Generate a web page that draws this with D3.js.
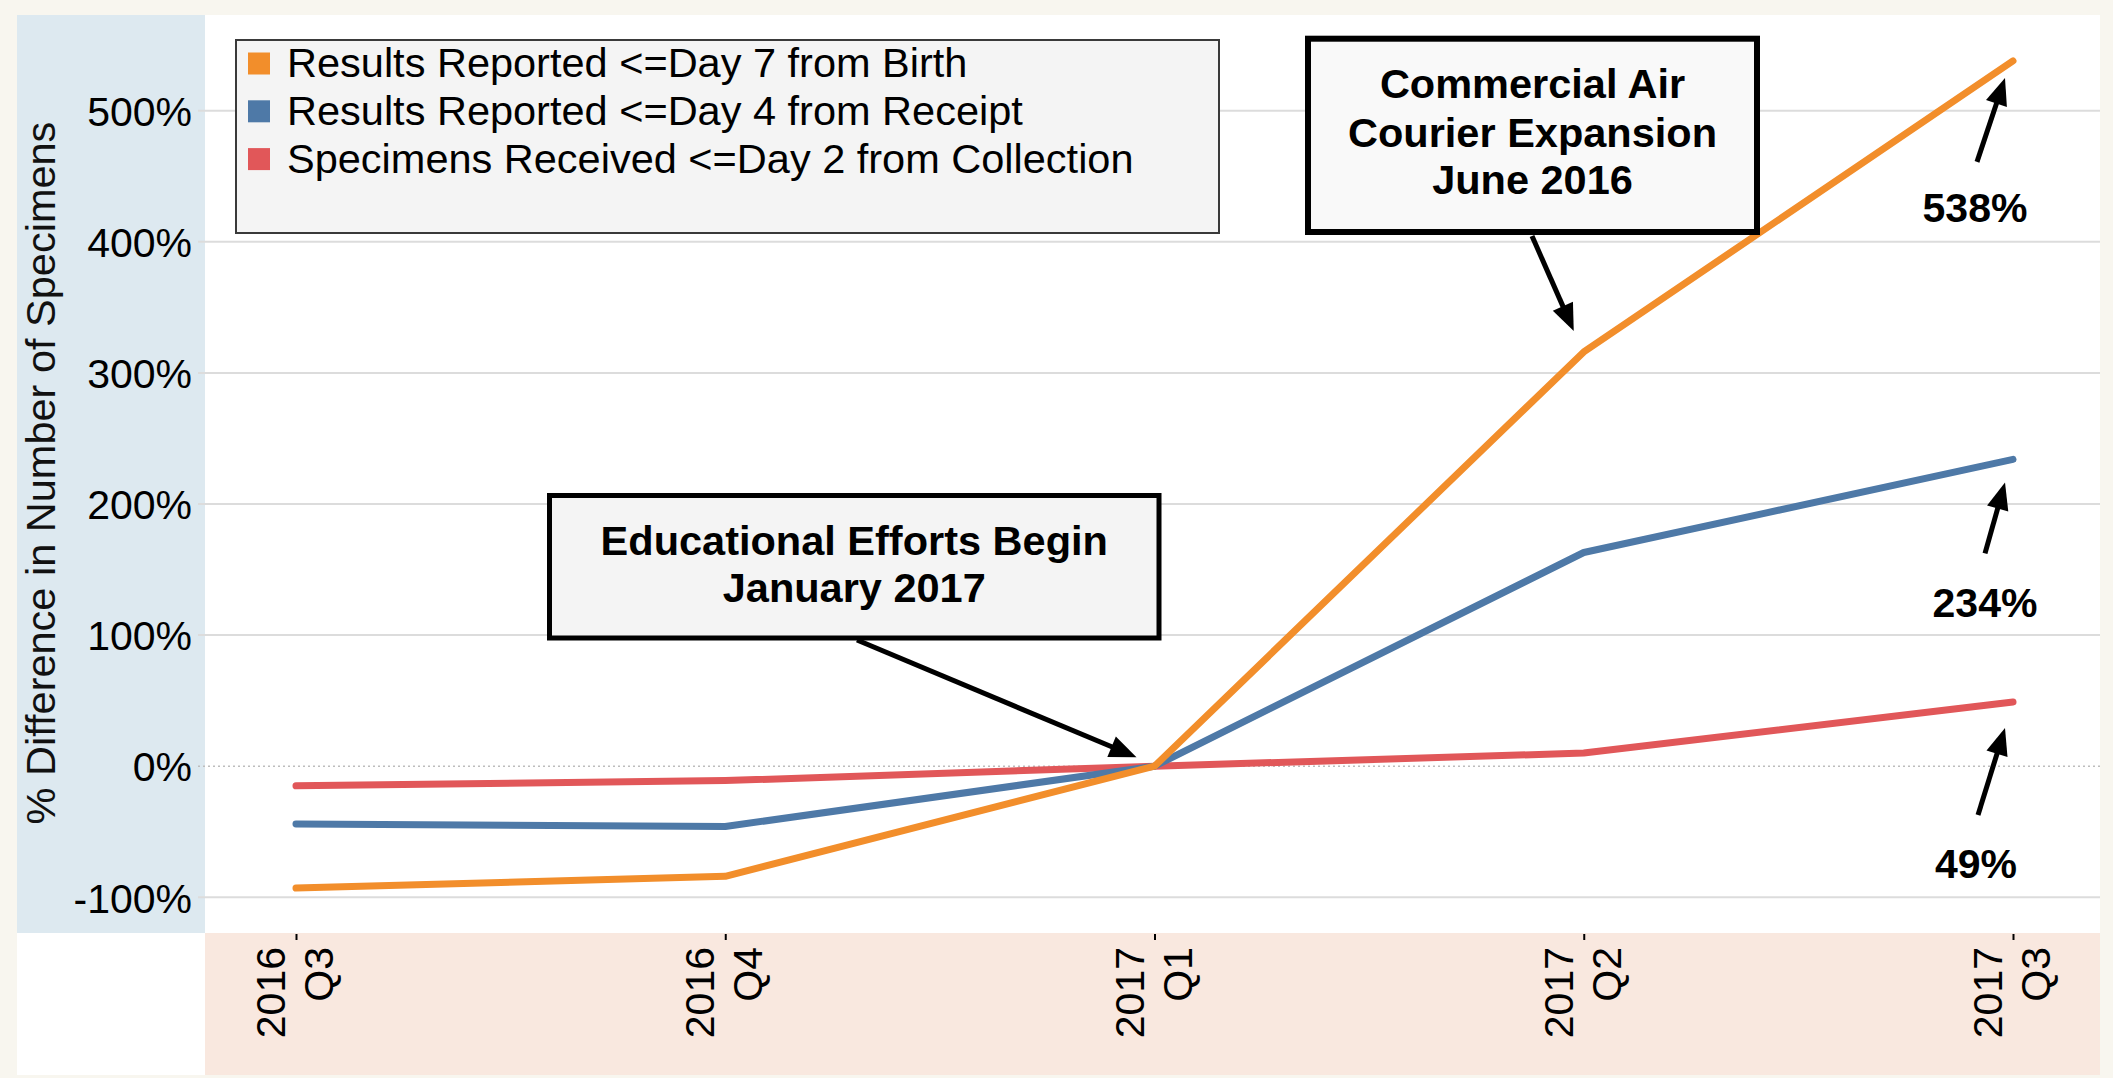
<!DOCTYPE html>
<html>
<head>
<meta charset="utf-8">
<script src="https://cdn.jsdelivr.net/npm/d3@7"></script>
<style>
  html, body { margin: 0; padding: 0; background: #f8f6ef; }
  svg { display: block; font-family: "Liberation Sans", Arial, sans-serif; }
</style>
</head>
<body>
<div id="chart"></div>
<script>
// quarters on the x axis and the % difference of each series
const quarters = ["2016 Q3", "2016 Q4", "2017 Q1", "2017 Q2", "2017 Q3"];
const seriesNames = [
  "Results Reported <=Day 7 from Birth",
  "Results Reported <=Day 4 from Receipt",
  "Specimens Received <=Day 2 from Collection"
];
const birthDay7 = [-93, -84, 0, 316, 538];
const receiptDay4 = [-44, -46, 0, 163, 234];
const collectionDay2 = [-15, -11, 0, 10, 49];
const yTicks = [-100, 0, 100, 200, 300, 400, 500];
const endLabels = ["538%", "234%", "49%"];

const colors = ["#f28e2b", "#4e79a7", "#e15759"];
const seriesValues = [birthDay7, receiptDay4, collectionDay2];

const W = 2113, H = 1078;
const plot = { left: 205, right: 2100, top: 15, bottom: 933 };

const svg = d3.select("#chart")
  .append("svg")
  .attr("width", W)
  .attr("height", H);

// backgrounds
svg.append("rect").attr("x", 17).attr("y", 15).attr("width", plot.right - 17).attr("height", 1075 - 15).attr("fill", "#ffffff");
svg.append("rect").attr("x", 17).attr("y", plot.top).attr("width", plot.left - 17).attr("height", plot.bottom - plot.top).attr("fill", "#dde9f0");
svg.append("rect").attr("x", plot.left).attr("y", plot.bottom).attr("width", plot.right - plot.left).attr("height", 1075 - plot.bottom).attr("fill", "#f9e8df");

const xScale = d3.scalePoint()
  .domain(quarters)
  .range([296, 2013]);

const yScale = d3.scaleLinear()
  .domain([-100, 500])
  .range([897.3, 110.7]);

// gridlines
svg.append("g")
  .selectAll("line")
  .data(yTicks)
  .enter()
  .append("line")
  .attr("x1", 198)
  .attr("x2", plot.right)
  .attr("y1", d => yScale(d))
  .attr("y2", d => yScale(d))
  .attr("stroke", d => d === 0 ? "#bdbdbd" : "#dcdcdc")
  .attr("stroke-width", d => d === 0 ? 1.5 : 2)
  .attr("stroke-dasharray", d => d === 0 ? "2,3" : null);

// y axis
const yAxis = d3.axisLeft(yScale)
  .tickValues(yTicks)
  .tickSize(0)
  .tickPadding(0)
  .tickFormat(d => d + "%");

const yAxisG = svg.append("g")
  .attr("transform", "translate(192,0)")
  .call(yAxis);
yAxisG.select(".domain").remove();
yAxisG.selectAll("text")
  .attr("font-size", 41)
  .attr("font-family", "Liberation Sans, Arial, sans-serif")
  .attr("fill", "#000")
  .attr("dy", "0.36em");

svg.append("text")
  .attr("transform", "translate(55,473) rotate(-90)")
  .attr("text-anchor", "middle")
  .attr("font-size", 41.5)
  .attr("fill", "#111")
  .text("% Difference in Number of Specimens");

// x axis ticks and two-line rotated labels
const xAxis = d3.axisBottom(xScale)
  .tickSize(6)
  .tickFormat("");

const xAxisG = svg.append("g")
  .attr("transform", `translate(0,${plot.bottom + 1})`)
  .call(xAxis);
xAxisG.select(".domain").remove();
xAxisG.selectAll("line").attr("stroke", "#000").attr("stroke-width", 2);

const xLabels = svg.append("g")
  .selectAll("text")
  .data(quarters)
  .enter()
  .append("text")
  .attr("transform", d => `translate(${xScale(d)},947) rotate(-90)`)
  .attr("text-anchor", "end")
  .attr("font-size", 41)
  .attr("fill", "#000");
xLabels.append("tspan").attr("x", 0).attr("y", -11).text(d => d.split(" ")[0]);
xLabels.append("tspan").attr("x", 0).attr("y", 37).text(d => d.split(" ")[1]);

// lines, drawn back to front
const line = d3.line()
  .x((d, i) => xScale(quarters[i]))
  .y(d => yScale(d));

svg.append("g")
  .selectAll("path")
  .data(seriesValues.map((v, i) => ({ values: v, color: colors[i] })).reverse())
  .enter()
  .append("path")
  .attr("d", d => line(d.values))
  .attr("fill", "none")
  .attr("stroke", d => d.color)
  .attr("stroke-width", 7)
  .attr("stroke-linecap", "round")
  .attr("stroke-linejoin", "round");

// legend
svg.append("rect")
  .attr("x", 236).attr("y", 40)
  .attr("width", 983).attr("height", 193)
  .attr("fill", "#f4f4f4")
  .attr("stroke", "#3a3a3a")
  .attr("stroke-width", 2);

const legendItem = svg.append("g")
  .selectAll("g")
  .data(seriesNames)
  .enter()
  .append("g")
  .attr("transform", (d, i) => `translate(248,${63.5 + i * 47.8})`);

legendItem.append("rect")
  .attr("x", 0).attr("y", -11)
  .attr("width", 22).attr("height", 22)
  .attr("fill", (d, i) => colors[i]);

legendItem.append("text")
  .attr("x", 39).attr("y", 13.5)
  .attr("font-size", 41.5)
  .attr("fill", "#000")
  .text(d => d);

// arrow helper
function arrow(x1, y1, x2, y2) {
  const ang = Math.atan2(y2 - y1, x2 - x1);
  const hl = 27, hw = 11;
  const bx = x2 - hl * Math.cos(ang), by = y2 - hl * Math.sin(ang);
  svg.append("line")
    .attr("x1", x1).attr("y1", y1)
    .attr("x2", bx + 4 * Math.cos(ang)).attr("y2", by + 4 * Math.sin(ang))
    .attr("stroke", "#000")
    .attr("stroke-width", 5);
  svg.append("polygon")
    .attr("points", [
      [x2, y2],
      [bx - hw * Math.sin(ang), by + hw * Math.cos(ang)],
      [bx + hw * Math.sin(ang), by - hw * Math.cos(ang)]
    ].map(p => p.join(",")).join(" "))
    .attr("fill", "#000");
}

// callout boxes
function callout(x, y, w, h, sw, fill, lines, baselines) {
  svg.append("rect")
    .attr("x", x).attr("y", y)
    .attr("width", w).attr("height", h)
    .attr("fill", fill)
    .attr("stroke", "#000")
    .attr("stroke-width", sw);
  svg.append("g")
    .selectAll("text")
    .data(lines)
    .enter()
    .append("text")
    .attr("x", x + w / 2)
    .attr("y", (d, i) => baselines[i])
    .attr("text-anchor", "middle")
    .attr("font-size", 41.5)
    .attr("font-weight", "bold")
    .attr("fill", "#000")
    .text(d => d);
}

const q1x = xScale("2017 Q1"), q2x = xScale("2017 Q2");
arrow(857, 640, q1x - 18, yScale(birthDay7[2]) - 9);
callout(549.5, 495.5, 609.5, 142.5, 5, "#f4f4f4",
  ["Educational Efforts Begin", "January 2017"], [555, 602]);

arrow(1532, 236, q2x - 10, yScale(birthDay7[3]) - 21);
callout(1308, 38.7, 449, 193.3, 6, "#f9f9f9",
  ["Commercial Air", "Courier Expansion", "June 2016"], [98, 146.5, 193.5]);

// end-of-line labels with arrows
const lastX = xScale("2017 Q3");
const endOffsets = [
  { tail: [-36, 101], tip: [-8, 17], label: [-38, 161] },
  { tail: [-28, 94], tip: [-8, 23], label: [-28, 158] },
  { tail: [-35, 113], tip: [-8, 26], label: [-37, 176] }
];
seriesValues.forEach((v, i) => {
  const py = yScale(v[v.length - 1]);
  const o = endOffsets[i];
  arrow(lastX + o.tail[0], py + o.tail[1], lastX + o.tip[0], py + o.tip[1]);
  svg.append("text")
    .attr("x", lastX + o.label[0])
    .attr("y", py + o.label[1])
    .attr("text-anchor", "middle")
    .attr("font-size", 41)
    .attr("font-weight", "bold")
    .attr("fill", "#000")
    .text(endLabels[i]);
});
</script>
</body>
</html>
